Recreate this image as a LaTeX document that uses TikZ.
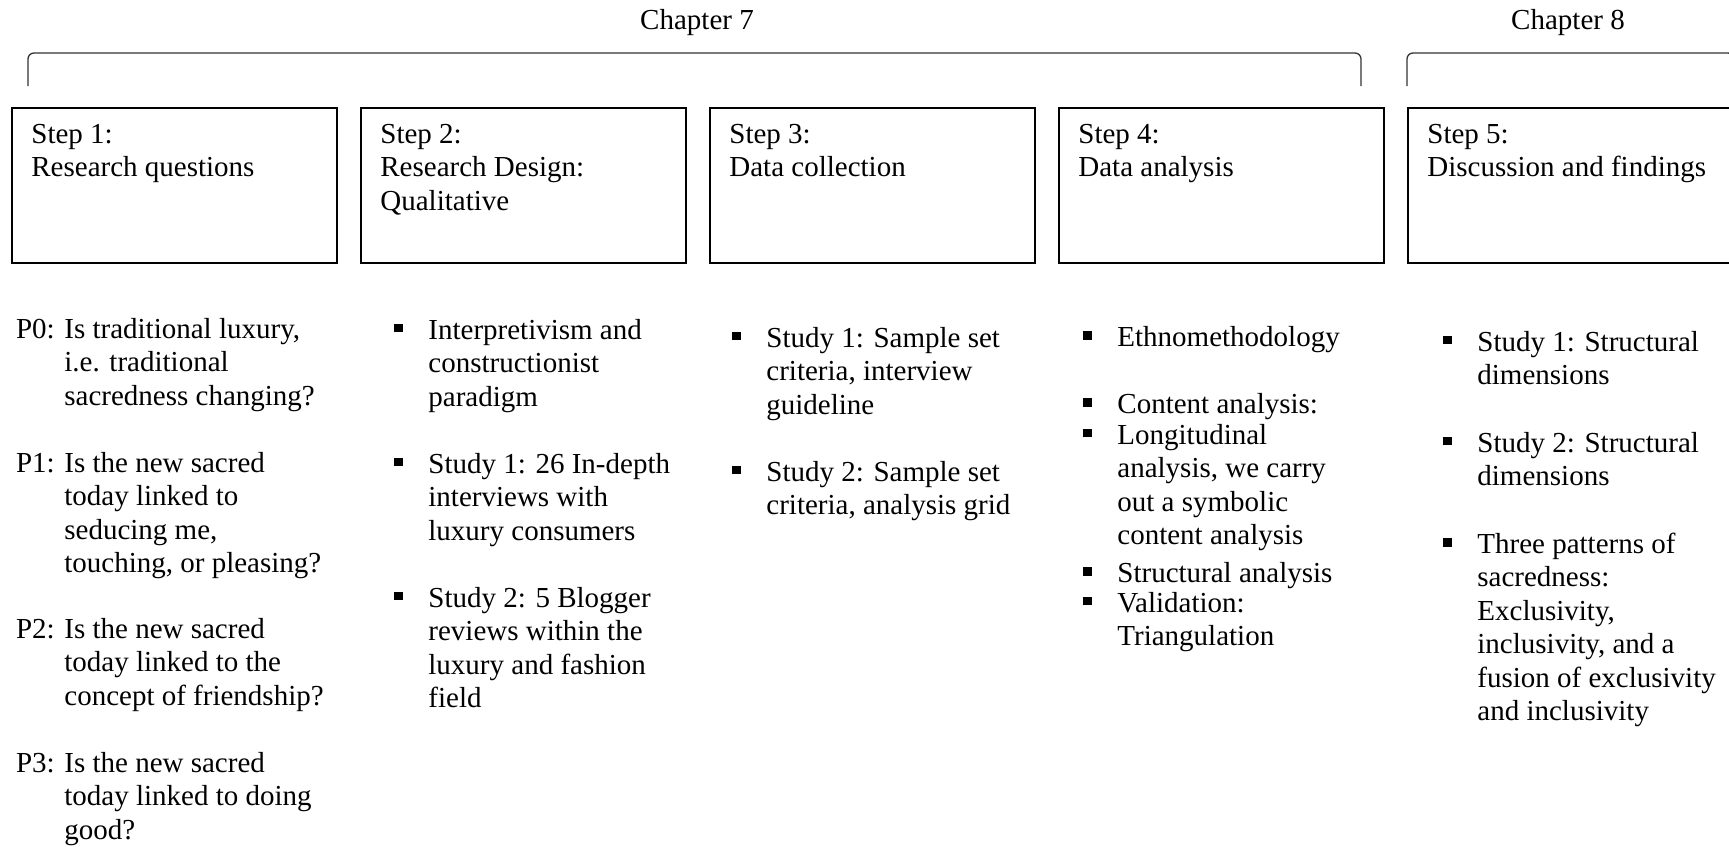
\documentclass[tikz,border=0pt]{standalone}
\usepackage{fontspec}
\setmainfont{Liberation Serif}
\usetikzlibrary{positioning}
\newcommand{\sqbul}{\llap{\raisebox{3.3pt}{\rule{4.3pt}{4.3pt}}\hspace{12.8pt}}}

\begin{document}
\begin{tikzpicture}[x=0.5pt,y=-0.5pt,
    stepbox/.style={draw=black,line width=1pt,anchor=north west,minimum width=162.25pt,minimum height=77.5pt,inner sep=0pt},
    txt/.style={anchor=north west,yshift=11.725pt,align=left,inner sep=0pt,font=\fontsize{14.5}{16.75}\selectfont,execute at begin node=\strut},
    chap/.style={anchor=base,inner sep=0pt,font=\fontsize{14.5}{16.75}\selectfont},
    brace/.style={draw=black!80,line width=0.65pt,rounded corners=3pt}]
    \useasboundingbox (0,0) rectangle (1729,846);

    \node[chap] (Ch_7) at (697,29) {Chapter 7};
    \node[chap] (Ch_8) at (1568,29) {Chapter 8};

    \coordinate (Br7_l) at (28,86);
    \coordinate (Br7_r) at (1361,86);
    \coordinate (Br8_l) at (1407,86);
    \coordinate (Br8_r) at (1734,86);
    \draw[brace] (Br7_l) -- ++(0,-33) -| (Br7_r);
    \draw[brace] (Br8_l) -- ++(0,-33) -| (Br8_r);

    \node[stepbox] (S_1) at (11,107) {};
    \node[stepbox] (S_2) at (360,107) {};
    \node[stepbox] (S_3) at (709,107) {};
    \node[stepbox] (S_4) at (1058,107) {};
    \node[stepbox,minimum width=170pt] (S_5) at (1407,107) {};

    \node[txt] (T_1) at ([shift={(20,40)}]S_1.north west) {Step 1:\\Research questions};
    \node[txt] (T_2) at ([shift={(20,40)}]S_2.north west) {Step 2:\\Research Design:\\Qualitative};
    \node[txt] (T_3) at ([shift={(20,40)}]S_3.north west) {Step 3:\\Data collection};
    \node[txt] (T_4) at ([shift={(20,40)}]S_4.north west) {Step 4:\\Data analysis};
    \node[txt] (T_5) at ([shift={(20,40)}]S_5.north west) {Step 5:\\Discussion and findings};

    \node[txt] (P_0) at (64,341) {\llap{P0: }Is traditional luxury,\\i.e. traditional\\sacredness changing?};
    \node[txt] (P_1) at (64,475) {\llap{P1: }Is the new sacred\\today linked to\\seducing me,\\touching, or pleasing?};
    \node[txt] (P_2) at (64,641) {\llap{P2: }Is the new sacred\\today linked to the\\concept of friendship?};
    \node[txt] (P_3) at (64,775) {\llap{P3: }Is the new sacred\\today linked to doing\\good?};

    \node[txt] (D_1) at (428,342) {\sqbul Interpretivism and\\constructionist\\paradigm};
    \node[txt] (D_2) at (428,476) {\sqbul Study 1: 26 In-depth\\interviews with\\luxury consumers};
    \node[txt] (D_3) at (428,610) {\sqbul Study 2: 5 Blogger\\reviews within the\\luxury and fashion\\field};

    \node[txt] (C_1) at (766,350) {\sqbul Study 1: Sample set\\criteria, interview\\guideline};
    \node[txt] (C_2) at (766,484) {\sqbul Study 2: Sample set\\criteria, analysis grid};

    \node[txt] (A_1) at (1117,346) {\sqbul Ethnomethodology};
    \node[txt] (A_2) at (1117,413) {\sqbul Content analysis:};
    \node[txt] (A_3) at (1117,447) {\sqbul Longitudinal\\analysis, we carry\\out a symbolic\\content analysis};
    \node[txt] (A_4) at (1117,582) {\sqbul Structural analysis};
    \node[txt] (A_5) at (1117,615) {\sqbul Validation:\\Triangulation};

    \node[txt] (F_1) at (1477,354) {\sqbul Study 1: Structural\\dimensions};
    \node[txt] (F_2) at (1477,455) {\sqbul Study 2: Structural\\dimensions};
    \node[txt] (F_3) at (1477,556) {\sqbul Three patterns of\\sacredness:\\Exclusivity,\\inclusivity, and a\\fusion of exclusivity\\and inclusivity};
\end{tikzpicture}
\end{document}
